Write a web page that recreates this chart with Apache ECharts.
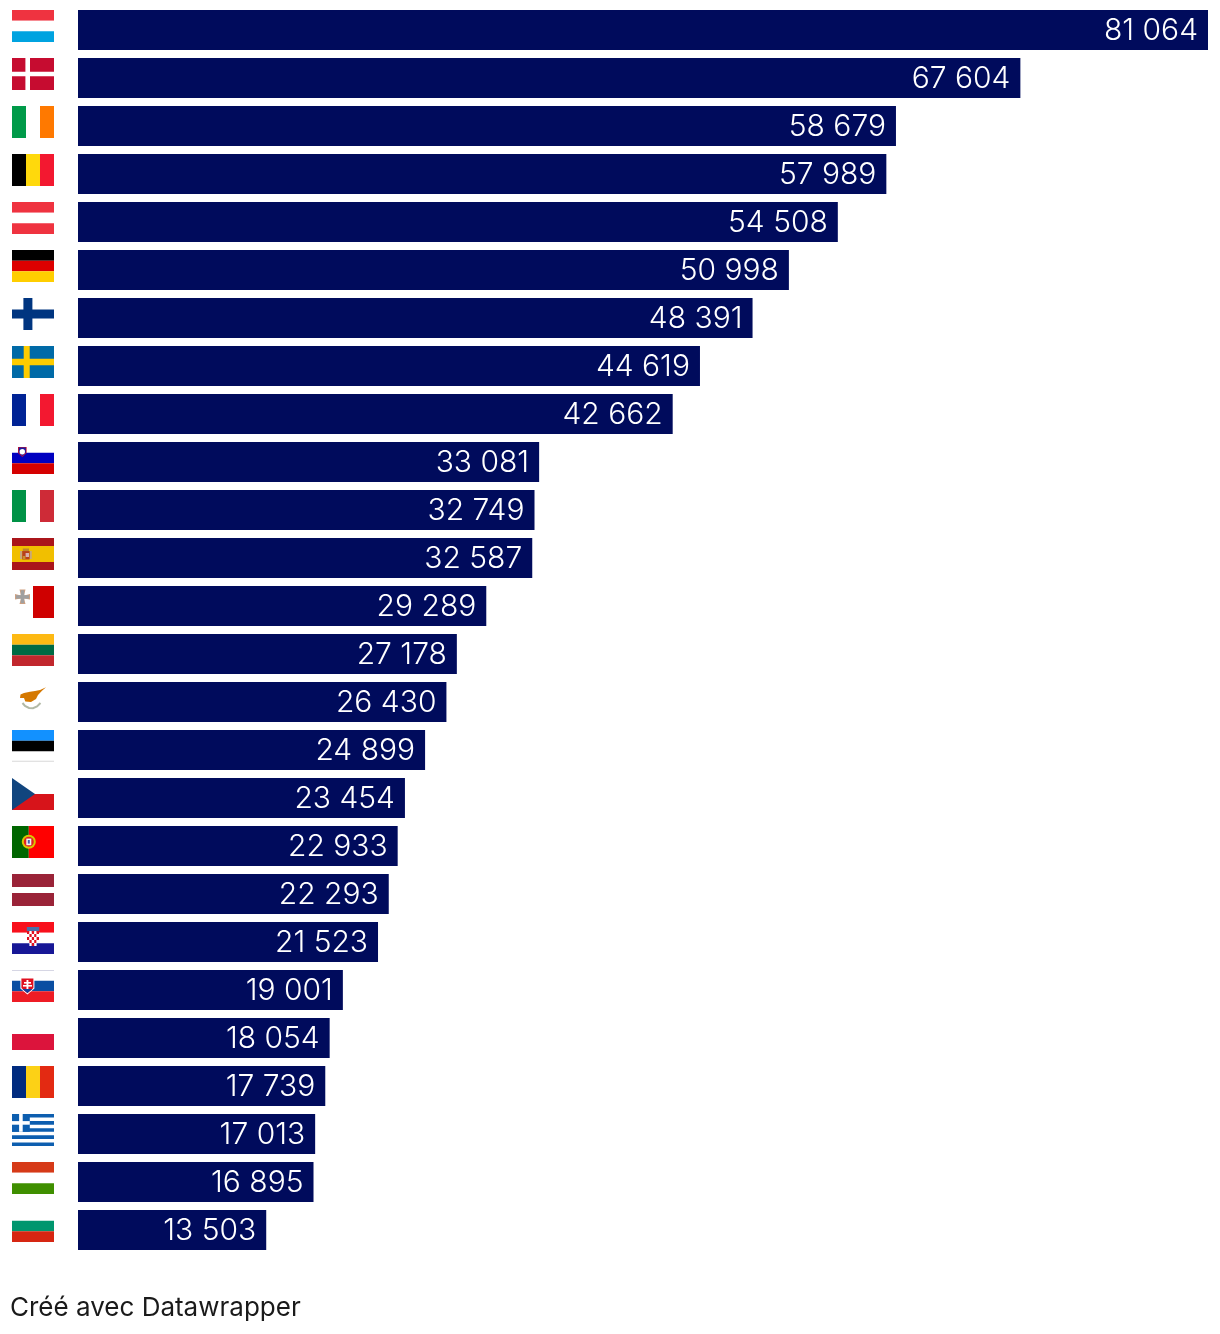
<!DOCTYPE html>
<html><head><meta charset="utf-8">
<style>html,body{margin:0;padding:0;background:#fff}#c{width:1220px;height:1334px}</style>
<script src="https://cdn.jsdelivr.net/npm/echarts@6/dist/echarts.min.js"></script>
</head><body><div id="c"></div>
<script>
const countries = ['Luxembourg','Danemark','Irlande','Belgique','Autriche','Allemagne','Finlande','Suède','France','Slovénie','Italie','Espagne','Malte','Lituanie','Chypre','Estonie','Tchéquie','Portugal','Lettonie','Croatie','Slovaquie','Pologne','Roumanie','Grèce','Hongrie','Bulgarie'];
const values = [81064,67604,58679,57989,54508,50998,48391,44619,42662,33081,32749,32587,29289,27178,26430,24899,23454,22933,22293,21523,19001,18054,17739,17013,16895,13503];
const footer = 'Créé avec Datawrapper';
const barColor = '#000b5c';

// Flag drawing helpers, in a 42×32 flag box
const R=(x,y,w,h,c)=>({type:'rect',shape:{x,y,width:w,height:h},style:{fill:c}});
const P=(pts,c)=>({type:'polygon',shape:{points:pts},style:{fill:c}});
const C=(cx,cy,r,c)=>({type:'circle',shape:{cx,cy,r},style:{fill:c}});
const H=(a,b,c,y0=0,y1=32)=>{const h=(y1-y0)/3;return [R(0,y0,42,h,a),R(0,y0+h,42,h,b),R(0,y0+2*h,42,h,c)];};
const V=(a,b,c)=>[R(0,0,14,32,a),R(14,0,14,32,b),R(28,0,14,32,c)];
const flags = {
 Luxembourg:()=>H('#ef3340','#fff','#00a3e0'),
 Danemark:()=>[R(0,0,42,32,'#c60c30'),R(13.4,0,4.6,32,'#fff'),R(0,13.8,42,4.4,'#fff')],
 Irlande:()=>V('#009a49','#fff','#ff7900'),
 Belgique:()=>V('#000','#ffd90c','#f31830'),
 Autriche:()=>H('#ef3340','#fff','#ef3340'),
 Allemagne:()=>H('#000','#dd0000','#ffce00'),
 Finlande:()=>[R(11.4,0,9,32,'#003580'),R(0,11.4,42,9.2,'#003580')],
 'Suède':()=>[R(0,0,42,32,'#006aa7'),R(11.7,0,6,32,'#fecc00'),R(0,12.8,42,6.4,'#fecc00')],
 France:()=>V('#002395','#fff','#f31830'),
 'Slovénie':()=>[...H('#fff','#0000c0','#d50000'),P([[6,5],[14.6,5],[14.6,11],[10.3,15],[6,11]],'#c8102e'),P([[6.8,5.6],[13.8,5.6],[13.8,10.6],[10.3,14],[6.8,10.6]],'#1a1aa0'),C(10.3,9.8,2.7,'#fff')],
 Italie:()=>V('#009246','#fff','#ce2b37'),
 Espagne:()=>[R(0,0,42,8,'#aa151b'),R(0,8,42,16,'#f1bf00'),R(0,24,42,8,'#aa151b'),R(8,13,2.2,8,'#c8a878'),R(17.6,13,2.2,8,'#c8a878'),R(10.2,13,7.4,8.5,'#b8401c'),R(10.8,10.5,6.2,2.6,'#c08828'),R(13.6,15,3.4,4,'#d8b0b0'),R(10.8,18,2.6,3,'#c89030')],
 Malte:()=>[R(21,0,21,32,'#cf0000'),P([[7.5,3.4],[13.5,3.4],[12,9.5],[18,8],[18,13.5],[12,12.5],[13.5,18],[7.5,18],[9,12.5],[3,13.5],[3,8],[9,9.5]],'#d0a080'),R(8.8,4.2,3.4,13,'#a0a0a0'),R(3.9,9.2,13.2,3.4,'#a0a0a0')],
 Lituanie:()=>H('#fdb913','#006a44','#c1272d'),
 Chypre:()=>[P([[34,5.3],[28,8],[23,9],[18,9.8],[12,11],[8.5,12.6],[8,16],[12,16],[13.3,19.6],[19,20],[24,17],[26,13],[30,8.8]],'#d57800'),
   {type:'polyline',shape:{points:[[10.5,21],[13,24],[17,26],[21,26.2],[25,24.5],[28.5,21]]},style:{stroke:'#b2b9a6',lineWidth:2,fill:null}}],
 Estonie:()=>[R(0,0,42,10.7,'#1291ff'),R(0,10.7,42,10.6,'#000'),R(0,30.7,42,1,'#d8d8d8')],
 'Tchéquie':()=>[R(0,16,42,16,'#d7141a'),P([[0,0],[23,16],[0,32]],'#11457e')],
 Portugal:()=>[R(0,0,16.8,32,'#006600'),R(16.8,0,25.2,32,'#ff0000'),C(16.8,15.8,7,'#d8c800'),C(16.8,15.8,5,'#e02020'),R(14.3,12.6,5,6.6,'#f4f4f4'),R(15.8,14,2,3.6,'#4060b0')],
 Lettonie:()=>[R(0,0,42,13,'#9a2338'),R(0,19,42,13,'#9a2338')],
 Croatie:()=>{const m=H('#f8101c','#fff','#171796');m.push(R(14.8,5,12.4,4,'#4a6fa8'));
   for(let r=0;r<5;r++)for(let q=0;q<5;q++){const inset=r===4&&(q===0||q===4);if(inset)continue;m.push(R(15+q*2.4,9+r*3,2.4,3,(r+q)%2===0?'#e01020':'#fff'));}
   return m;},
 Slovaquie:()=>[R(0,0,42,1,'#d6d6e4'),...H('#fff','#0b4ea2','#ee1c25').slice(1),P([[8.4,7.4],[22.4,7.4],[22.4,18.5],[15.4,24.6],[8.4,18.5]],'#fff'),P([[9.4,8.4],[21.4,8.4],[21.4,18],[15.4,23.2],[9.4,18]],'#e01020'),R(14.5,10,1.9,9.5,'#fff'),R(12,12,7,1.6,'#fff'),R(11,15,9,1.6,'#fff'),P([[10.4,19],[20.4,19],[15.4,23]],'#1040a0')],
 Pologne:()=>[R(0,16,42,16,'#dc143c')],
 Roumanie:()=>V('#002b7f','#fcd116','#e32a12'),
 'Grèce':()=>{const m=[];const s=32/9;for(let i=0;i<9;i+=2)m.push(R(0,i*s,42,s,'#0d5eaf'));
   m.push(R(0,0,17.8,17.8,'#0d5eaf'),R(7.1,0,3.6,17.8,'#fff'),R(0,7.1,17.8,3.6,'#fff'));return m;},
 Hongrie:()=>H('#d63a18','#fff','#3f8f00'),
 Bulgarie:()=>H('#fff','#00966e','#d62612')
};

const chart = echarts.init(document.getElementById('c'),null,{renderer:'canvas'});
chart.setOption({
 animation:false,
 backgroundColor:'#fff',
 title:{text:footer,left:10,top:1295,padding:0,textStyle:{fontFamily:'Inter',fontWeight:400,fontSize:26,color:'#1a1a1a'}},
 grid:{left:78,right:12,top:6,height:1248},
 xAxis:{type:'value',min:0,max:values[0],show:false},
 yAxis:{type:'category',data:countries,inverse:true,show:false},
 series:[
  {type:'bar',data:values,barWidth:40,itemStyle:{color:barColor},
   label:{show:true,position:'insideRight',distance:10,color:'#fff',fontFamily:'Inter',fontSize:30,fontWeight:300,offset:[0,1],
     formatter:p=>String(p.value).replace(/\B(?=(\d{3})+$)/g,' ')}},
  {type:'custom',coordinateSystem:'cartesian2d',clip:false,silent:true,
   encode:{x:0,y:1},
   data:countries.map(c=>[0,c]),
   renderItem:(params,api)=>{
     const p=api.coord([0,api.value(1)]);
     return {type:'group',x:p[0]-66,y:p[1]-20,children:flags[countries[params.dataIndex]]()};
   }}
 ]
});
</script></body></html>
